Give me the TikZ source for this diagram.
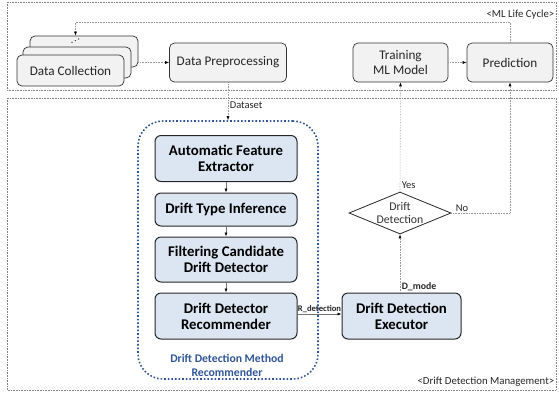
\documentclass[tikz,border=0pt]{standalone}
\usepackage{fontspec}
\setmainfont{Carlito}
\usetikzlibrary{arrows.meta,calc,shapes.geometric}
\definecolor{BoxClr}{RGB}{242,242,242}
\definecolor{BlueBoxClr}{RGB}{220,230,242}
\definecolor{FrameClr}{RGB}{130,130,130}
\definecolor{GroupClr}{RGB}{47,85,151}

\begin{document}
\begin{tikzpicture}[x=1pt,y=-1pt,
  lcbox/.style={draw=black!80,fill=BoxClr,rounded corners=5pt,line width=0.7pt,
    minimum height=39pt,align=center,text=black!85,font=\fontsize{13.2}{14.5}\selectfont},
  ddbox/.style={draw=black!85,fill=BlueBoxClr,rounded corners=6pt,line width=1pt,
    minimum width=142pt,align=center,font=\bfseries\fontsize{14.8}{16}\selectfont},
  frame/.style={draw=FrameClr,densely dotted,line width=0.6pt},
  flow/.style={draw=black!40,densely dotted,line width=0.6pt,-{Latex[length=4pt,width=3pt,black]}},
  link/.style={draw=black!55,line width=0.7pt,-{Latex[length=4pt,width=3pt,black]}},
  lbl/.style={font=\fontsize{10.5}{12}\selectfont,inner sep=1.5pt,text=black!85}]

\useasboundingbox (0,0) rectangle (559,392);

\draw[frame] (7,2) rectangle (556,90);
\draw[frame] (7,98) rectangle (556,390);
\node[lbl,anchor=east,font=\fontsize{10.8}{12}\selectfont] (mlc) at (556,14.5) {\textless ML Life Cycle\textgreater};
\node[lbl,anchor=east,font=\fontsize{10.8}{12}\selectfont] (ddm) at (556,382) {\textless Drift Detection Management\textgreater};

\node[lcbox,minimum width=108pt,minimum height=31pt] (dc3) at (84,51.5) {};
\node[lcbox,minimum width=108pt,minimum height=31pt] (dc2) at (77,62.5) {};
\node[lcbox,minimum width=107pt,minimum height=31pt] (dc1) at (70.5,70.5) {Data Collection};
\foreach \dx/\dy in {72/42.3,75.3/40.7,78.6/39}
  \fill[black!80] (\dx,\dy) circle (0.7pt);

\node[lcbox,minimum width=117pt] (dp) at (228,62.5) {Data Preprocessing};
\node[lcbox,minimum width=95pt] (train) at (400.5,62.5) {Training\\ML Model};
\node[lcbox,minimum width=86pt] (pred) at (510,62.5) {Prediction};

\draw[flow] (dc3.east |- dp.west) -- (dp.west);
\draw[flow] (train) -- (pred);
\coordinate (fb) at (75.5,22);
\draw[flow] (pred.north) |- (fb) -- (fb |- dc3.north);

\node[draw=GroupClr,dotted,line width=1.6pt,rounded corners=25pt,
  minimum width=180pt,minimum height=258pt] (grp) at (228,250) {};
\node[text=GroupClr,align=center,font=\bfseries\fontsize{11.7}{14}\selectfont] (grplbl) at (227,365) {Drift Detection Method\\Recommender};

\node[ddbox,minimum height=46pt] (afe) at (226,158.5) {Automatic Feature\\Extractor};
\node[ddbox,minimum height=33pt] (dti) at (226,209.5) {Drift Type Inference};
\node[ddbox,minimum height=45pt] (fcd) at (226,259.5) {Filtering Candidate\\Drift Detector};
\node[ddbox,minimum height=46pt] (ddr) at (226,316) {Drift Detector\\Recommender};
\node[ddbox,minimum width=119pt,minimum height=46pt] (dde) at (401.5,316) {Drift Detection\\Executor};

\node[diamond,draw=black!85,fill=white,line width=0.8pt,aspect=2.4,inner sep=0pt,
  minimum width=102pt,minimum height=42pt,align=center,text=black!80,
  font=\fontsize{11.8}{13.5}\selectfont] (dd) at (400,213) {Drift\\Detection};

\draw[flow] (dp.south) -- (dp.south |- grp.north) node[lbl,pos=0.6,right] {Dataset};
\draw[link] (afe) -- (dti);
\draw[link] (dti) -- (fcd);
\draw[link] (fcd) -- (ddr);
\draw[link] (ddr.east |- 0,314) -- (dde.west |- 0,314) node[lbl,midway,above,inner sep=1pt,font=\bfseries\fontsize{8.6}{9}\selectfont] {R\_detection};
\draw[flow] (dd.south |- dde.north) -- (dd.south) node[lbl,pos=0.1,right,font=\bfseries\fontsize{9.8}{10}\selectfont] {D\_mode};
\draw[flow] (dd.north) -- (train.south) node[lbl,pos=0.06,right] {Yes};
\draw[flow] (dd.east) -| (pred.south) node[lbl,pos=0.09,above] {No};

\end{tikzpicture}
\end{document}
